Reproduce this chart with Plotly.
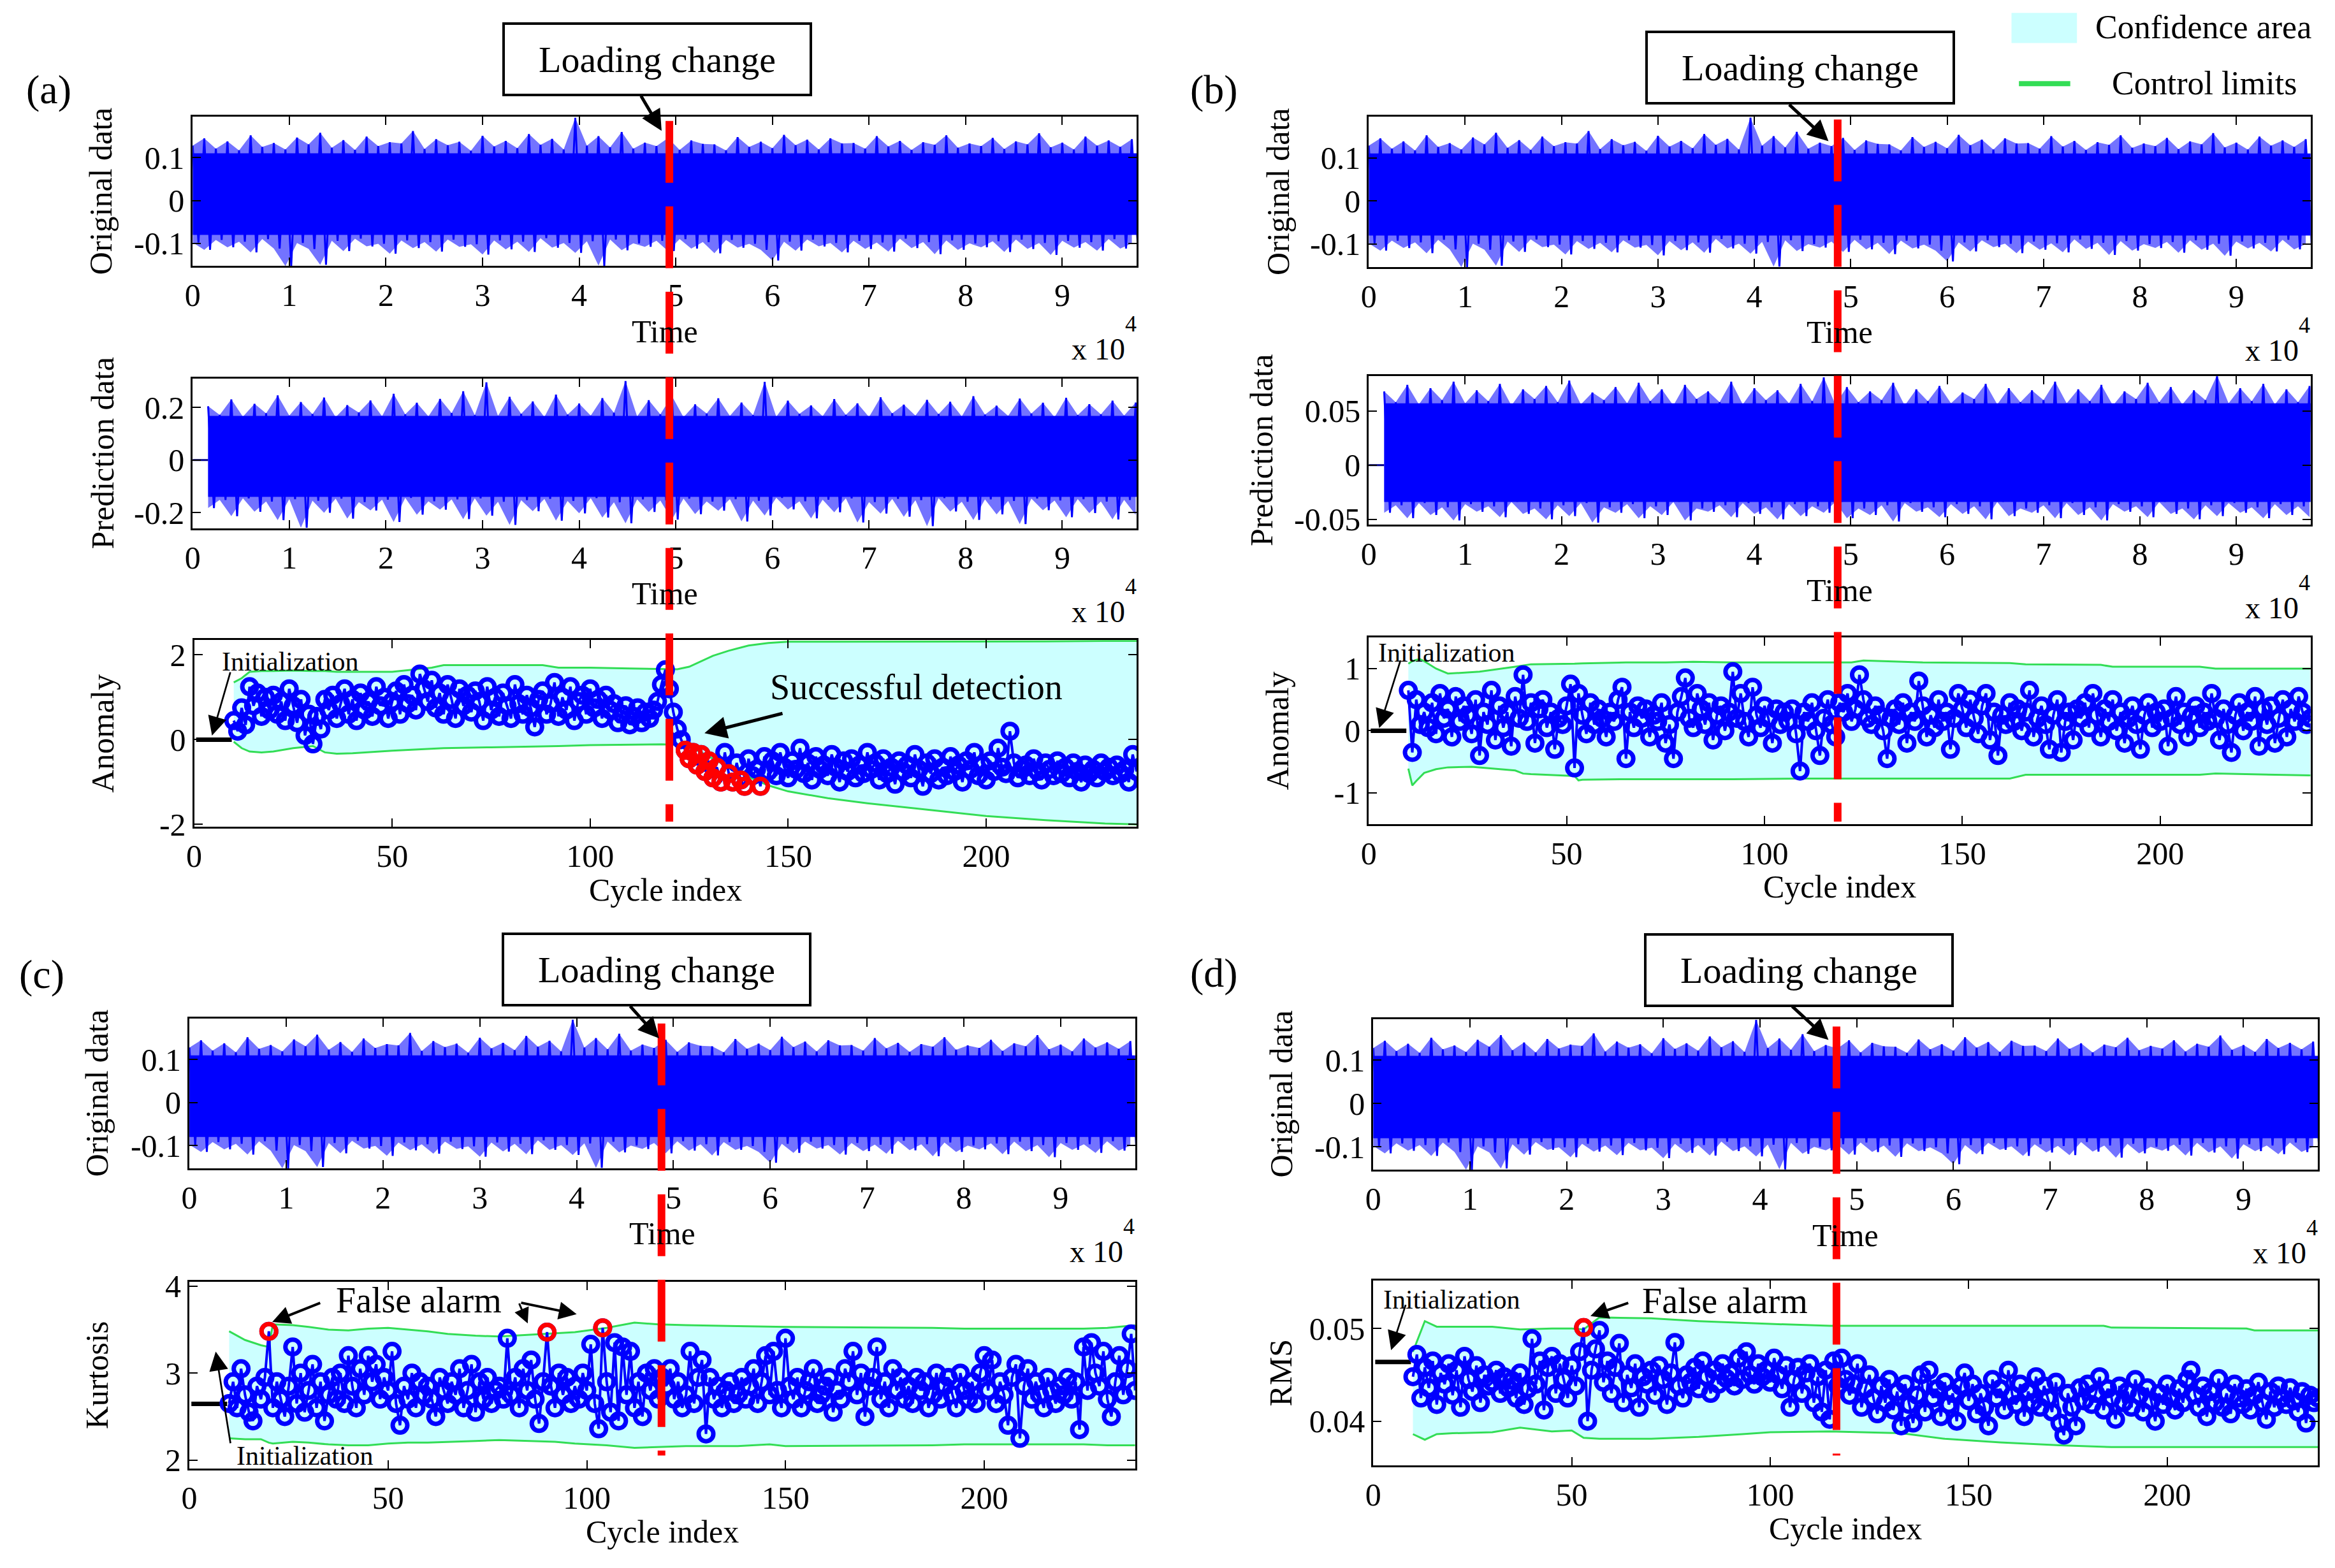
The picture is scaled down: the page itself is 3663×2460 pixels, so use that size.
import plotly.graph_objects as go

# ---------------- data ----------------
# vibration signal: block max / min (blocks of 1200 samples); the same recording
# is shown in the four "Original data" panels
orig_upper = [0.128, 0.145, 0.121, 0.138, 0.117, 0.152, 0.125, 0.134, 0.119, 0.147,
              0.131, 0.158, 0.123, 0.141, 0.118, 0.149, 0.127, 0.136, 0.133, 0.162,
              0.120, 0.143, 0.129, 0.137, 0.116, 0.151, 0.126, 0.139, 0.122, 0.155,
              0.130, 0.144, 0.119, 0.193, 0.128, 0.150, 0.124, 0.160, 0.121, 0.135,
              0.127, 0.146, 0.118, 0.140, 0.132, 0.131, 0.117, 0.148, 0.125, 0.137,
              0.122, 0.153, 0.129, 0.142, 0.119, 0.145, 0.133, 0.134, 0.121, 0.150,
              0.126, 0.139, 0.118, 0.136, 0.130, 0.152, 0.123, 0.133, 0.127, 0.146,
              0.120, 0.138, 0.131, 0.157, 0.124, 0.135, 0.119, 0.149, 0.128, 0.140,
              0.125, 0.143]
orig_lower = [-0.098, -0.115, -0.092, -0.109, -0.096, -0.121, -0.090, -0.112, -0.153, -0.099,
              -0.113, -0.150, -0.094, -0.118, -0.089, -0.107, -0.101, -0.124, -0.093, -0.111,
              -0.097, -0.119, -0.091, -0.108, -0.102, -0.126, -0.093, -0.114, -0.096, -0.120,
              -0.088, -0.110, -0.099, -0.122, -0.095, -0.152, -0.091, -0.116, -0.100, -0.108,
              -0.094, -0.118, -0.090, -0.112, -0.097, -0.123, -0.092, -0.110, -0.101, -0.115,
              -0.140, -0.096, -0.117, -0.091, -0.107, -0.099, -0.121, -0.094, -0.113, -0.098,
              -0.119, -0.089, -0.111, -0.097, -0.125, -0.093, -0.115, -0.100, -0.109, -0.095,
              -0.120, -0.091, -0.113, -0.099, -0.127, -0.094, -0.110, -0.097, -0.117, -0.090,
              -0.112, -0.100]
orig_core = [-0.080, 0.110]       # filled solid by the signal
block = 1200

# prediction signals (start at sample 1600, zero before)
pred_start = 1600
pred_a_upper = [0.205, 0.172, 0.231, 0.165, 0.214, 0.178, 0.246, 0.169, 0.221, 0.175,
                0.238, 0.163, 0.209, 0.181, 0.227, 0.167, 0.252, 0.174, 0.218, 0.166,
                0.233, 0.179, 0.262, 0.171, 0.296, 0.168, 0.241, 0.176, 0.223, 0.164,
                0.249, 0.173, 0.215, 0.169, 0.236, 0.180, 0.301, 0.166, 0.228, 0.174,
                0.244, 0.163, 0.212, 0.177, 0.235, 0.168, 0.219, 0.171, 0.298, 0.165,
                0.226, 0.176, 0.208, 0.167, 0.232, 0.172, 0.216, 0.164, 0.239, 0.178,
                0.211, 0.169, 0.229, 0.175, 0.222, 0.166, 0.243, 0.173, 0.207, 0.168,
                0.234, 0.177, 0.218, 0.163, 0.237, 0.171, 0.213, 0.174, 0.226, 0.169,
                0.219]
pred_a_lower = [-0.183, -0.152, -0.214, -0.146, -0.197, -0.158, -0.229, -0.149, -0.258, -0.155,
                -0.201, -0.147, -0.223, -0.160, -0.192, -0.151, -0.236, -0.144, -0.208, -0.157,
                -0.189, -0.150, -0.225, -0.146, -0.212, -0.159, -0.247, -0.153, -0.195, -0.148,
                -0.231, -0.156, -0.203, -0.145, -0.219, -0.161, -0.241, -0.150, -0.198, -0.154,
                -0.227, -0.147, -0.206, -0.158, -0.193, -0.149, -0.234, -0.155, -0.211, -0.144,
                -0.188, -0.157, -0.222, -0.151, -0.199, -0.146, -0.238, -0.160, -0.204, -0.148,
                -0.216, -0.153, -0.252, -0.145, -0.196, -0.159, -0.228, -0.150, -0.207, -0.156,
                -0.244, -0.147, -0.191, -0.154, -0.218, -0.149, -0.202, -0.158, -0.226, -0.152,
                -0.209]
pred_a_core = [-0.140, 0.168]
pred_b_upper = [0.068, 0.058, 0.074, 0.056, 0.071, 0.060, 0.077, 0.057, 0.069, 0.059,
                0.075, 0.055, 0.070, 0.061, 0.073, 0.058, 0.078, 0.056, 0.067, 0.060,
                0.072, 0.057, 0.076, 0.059, 0.070, 0.055, 0.074, 0.061, 0.068, 0.058,
                0.077, 0.056, 0.071, 0.060, 0.069, 0.057, 0.075, 0.059, 0.081, 0.056,
                0.072, 0.058, 0.068, 0.060, 0.076, 0.055, 0.070, 0.059, 0.073, 0.057,
                0.067, 0.061, 0.075, 0.056, 0.071, 0.058, 0.069, 0.060, 0.077, 0.057,
                0.070, 0.059, 0.074, 0.055, 0.068, 0.061, 0.076, 0.058, 0.072, 0.056,
                0.069, 0.060, 0.083, 0.057, 0.071, 0.059, 0.075, 0.056, 0.070, 0.058,
                0.073]
pred_b_lower = [-0.044, -0.037, -0.049, -0.035, -0.046, -0.039, -0.051, -0.036, -0.043, -0.038,
                -0.048, -0.034, -0.045, -0.040, -0.050, -0.037, -0.047, -0.035, -0.053, -0.039,
                -0.044, -0.036, -0.049, -0.038, -0.046, -0.034, -0.051, -0.040, -0.043, -0.037,
                -0.048, -0.035, -0.045, -0.039, -0.050, -0.036, -0.047, -0.038, -0.044, -0.034,
                -0.049, -0.040, -0.046, -0.037, -0.052, -0.035, -0.043, -0.039, -0.048, -0.036,
                -0.045, -0.038, -0.050, -0.034, -0.047, -0.040, -0.044, -0.037, -0.049, -0.035,
                -0.046, -0.039, -0.051, -0.036, -0.043, -0.038, -0.048, -0.034, -0.045, -0.040,
                -0.050, -0.037, -0.047, -0.035, -0.044, -0.039, -0.049, -0.036, -0.046, -0.038,
                -0.048]
pred_b_core = [-0.034, 0.057]

time_ticks = [0, 10000, 20000, 30000, 40000, 50000, 60000, 70000, 80000, 90000]
time_labels = ["0", "1", "2", "3", "4", "5", "6", "7", "8", "9"]
cycle_ticks = [0, 50, 100, 150, 200]
cycle_labels = ["0", "50", "100", "150", "200"]

first_cycle = 10            # monitored values start at cycle 10
init_cycles = [0.5, 9.5]    # initialization period

# (a) anomaly, cycles 10..238
anomaly_a = [0.45, 0.2, 0.75, 0.35, 1.25, 0.8, 1.1, 0.55, 1.0, 0.7,
             1.05, 0.6, 0.9, 0.45, 1.2, 0.8, 0.4, 0.95, 0.1, 0.6,
             -0.1, 0.55, 0.25, 0.95, 0.7, 1.05, 0.5, 0.85, 1.2, 0.6,
             0.95, 0.45, 1.1, 0.7, 0.9, 0.55, 1.25, 0.8, 1.0, 0.5,
             0.9, 1.15, 0.6, 1.3, 0.85, 1.05, 0.7, 1.55, 1.2, 0.9,
             1.4, 0.75, 1.1, 0.6, 1.3, 0.95, 0.5, 1.2, 0.8, 1.05,
             0.65, 1.15, 0.9, 0.45, 1.25, 0.7, 1.0, 0.55, 1.1, 0.8,
             0.5, 1.3, 0.85, 0.6, 1.05, 0.75, 0.3, 0.95, 1.15, 0.6,
             0.85, 1.35, 0.55, 1.0, 0.7, 1.25, 0.45, 0.9, 1.05, 0.6,
             1.2, 0.75, 0.95, 0.5, 1.05, 0.7, 0.85, 0.4, 0.6, 0.8,
             0.35, 0.55, 0.75, 0.4, 0.65, 0.5, 0.7, 0.9, 1.3, 1.65,
             1.2, 0.65, 0.25, 0.0, -0.25, -0.45, -0.3, -0.6, -0.35, -0.75,
             -0.5, -0.9, -0.65, -1.0, -0.3, -0.8, -1.0, -0.55, -0.95, -1.1,
             -0.45, -0.85, -0.7, -1.1, -0.4, -0.75, -0.5, -0.85, -0.3, -0.65,
             -0.9, -0.5, -0.7, -0.2, -0.8, -0.55, -0.95, -0.4, -0.7, -0.6,
             -0.85, -0.35, -0.65, -1.0, -0.5, -0.75, -0.45, -0.9, -0.6, -0.8,
             -0.3, -0.7, -0.55, -0.95, -0.45, -0.8, -0.65, -1.05, -0.5, -0.75,
             -0.6, -0.9, -0.35, -0.7, -1.1, -0.55, -0.8, -0.45, -0.95, -0.65,
             -0.85, -0.4, -0.75, -0.6, -1.0, -0.5, -0.7, -0.3, -0.85, -0.6,
             -0.95, -0.5, -0.75, -0.2, -0.65, -0.8, 0.2, -0.55, -0.9, -0.7,
             -0.6, -0.85, -0.45, -0.75, -0.95, -0.55, -0.7, -0.85, -0.5, -0.8,
             -0.65, -0.9, -0.55, -0.75, -1.0, -0.6, -0.8, -0.7, -0.9, -0.55,
             -0.75, -0.65, -0.85, -0.6, -0.8, -0.7, -1.0, -0.35, -0.75]
alarm_a = [124, 125, 126, 127, 128, 129, 130, 131, 132, 133, 135, 136, 138, 139, 143]
lim_a_cycles = [10, 12, 14, 17, 20, 25, 30, 33, 36, 40, 50, 60, 63, 75, 88, 92, 100, 110,
                118, 122, 125, 128, 131, 135, 140, 145, 150, 160, 170, 185, 200, 215, 230, 238]
lim_a_upper = [1.35, 1.45, 1.6, 1.62, 1.62, 1.63, 1.62, 1.62, 1.6, 1.6, 1.6, 1.7, 1.76, 1.76,
               1.76, 1.7, 1.7, 1.68, 1.66, 1.66, 1.72, 1.85, 1.98, 2.1, 2.22, 2.28, 2.31, 2.31,
               2.31, 2.31, 2.32, 2.32, 2.33, 2.33]
lim_a_lower = [-0.05, -0.2, -0.28, -0.3, -0.28, -0.2, -0.15, -0.3, -0.33, -0.32, -0.26, -0.22,
               -0.2, -0.18, -0.16, -0.15, -0.13, -0.12, -0.11, -0.12, -0.16, -0.3, -0.45, -0.65,
               -0.88, -1.08, -1.22, -1.38, -1.5, -1.65, -1.8, -1.9, -1.98, -2.0]
init_a = 0.0

# (b) anomaly, cycles 10..238
anomaly_b = [0.65, -0.35, 0.5, 0.1, 0.3, 0.05, 0.45, -0.05, 0.6, 0.2,
             0.35, -0.1, 0.55, 0.15, 0.4, 0.25, -0.05, 0.5, -0.4, 0.3,
             0.1, 0.65, -0.15, 0.4, 0.05, 0.3, -0.25, 0.55, 0.2, 0.9,
             0.15, 0.45, -0.2, 0.35, 0.5, 0.05, 0.3, -0.3, 0.2, 0.1,
             0.4, 0.75, -0.6, 0.6, 0.25, -0.05, 0.45, 0.1, 0.35, 0.2,
             -0.1, 0.3, 0.15, 0.5, 0.7, -0.45, 0.3, 0.05, 0.4, 0.2,
             0.35, -0.1, 0.25, 0.15, 0.45, -0.2, 0.1, -0.45, 0.3, 0.55,
             0.85, 0.2, 0.05, 0.6, 0.35, 0.1, 0.45, -0.15, 0.25, 0.4,
             0.0, 0.3, 0.95, 0.2, 0.6, 0.15, -0.1, 0.7, 0.25, 0.05,
             0.4, 0.2, -0.2, 0.35, 0.1, 0.3, 0.15, 0.35, -0.05, -0.65,
             0.3, 0.15, 0.45, 0.0, -0.4, 0.2, 0.5, 0.1, -0.1, 0.45,
             0.3, 0.6, 0.15, 0.35, 0.9, 0.5, 0.2, 0.1, 0.4, 0.25,
             0.0, -0.45, 0.2, 0.35, 0.1, 0.45, -0.2, 0.3, 0.15, 0.8,
             0.4, -0.1, 0.25, 0.05, 0.5, 0.15, 0.3, -0.3, 0.2, 0.6,
             0.35, 0.05, 0.5, 0.2, -0.05, 0.4, 0.6, -0.15, 0.3, -0.4,
             0.25, 0.1, 0.45, 0.15, 0.35, 0.0, 0.3, 0.65, -0.1, 0.2,
             0.4, 0.1, -0.3, 0.25, 0.5, -0.35, 0.15, 0.3, -0.15, 0.35,
             0.2, 0.45, 0.05, 0.6, 0.25, -0.1, 0.35, 0.15, 0.5, 0.0,
             0.3, -0.2, 0.2, 0.4, 0.1, -0.3, 0.25, 0.45, 0.05, 0.3,
             0.15, 0.35, -0.25, 0.2, 0.55, 0.1, 0.3, -0.1, 0.25, 0.4,
             0.05, 0.3, 0.15, 0.6, 0.2, -0.15, 0.35, 0.1, -0.35, 0.25,
             0.45, 0.0, 0.3, 0.15, 0.55, -0.25, 0.35, 0.1, 0.4, -0.2,
             0.2, 0.5, -0.1, 0.35, 0.15, 0.55, 0.3, 0.1, 0.2]
lim_b_cycles = [10, 11, 12, 13, 14, 17, 20, 26, 28, 37, 39, 41, 52, 53, 54, 65, 75, 82, 92, 110,
                122, 125, 140, 162, 166, 185, 188, 210, 214, 238]
lim_b_upper = [1.08, 1.12, 1.14, 1.15, 1.12, 1.0, 0.92, 0.94, 0.95, 1.03, 1.05, 1.07, 1.08, 1.08,
               1.085, 1.1, 1.1, 1.11, 1.1, 1.1, 1.1, 1.13, 1.1, 1.09, 1.07, 1.06, 1.03, 1.03,
               1.0, 1.0]
lim_b_lower = [-0.61, -0.88, -0.81, -0.74, -0.68, -0.62, -0.59, -0.58, -0.59, -0.64, -0.69, -0.7,
               -0.73, -0.8, -0.79, -0.78, -0.78, -0.78, -0.78, -0.77, -0.77, -0.77, -0.77, -0.77,
               -0.71, -0.71, -0.71, -0.71, -0.69, -0.72]
init_b = 0.0

# (c) kurtosis, cycles 10..238
kurtosis_c = [2.65, 2.9, 2.6, 3.05, 2.75, 2.55, 2.45, 2.85, 2.7, 2.95,
              3.48, 2.6, 2.9, 2.7, 2.5, 2.85, 3.3, 2.65, 3.0, 2.55,
              2.8, 3.1, 2.6, 2.9, 2.45, 2.75, 2.95, 2.7, 3.0, 2.65,
              3.2, 2.85, 2.6, 3.05, 2.75, 3.2, 2.9, 3.1, 2.7, 2.95,
              2.8, 3.25, 2.65, 2.4, 2.85, 2.7, 3.0, 2.6, 2.9, 2.75,
              2.85, 2.7, 2.5, 2.95, 2.8, 2.65, 2.9, 2.75, 3.05, 2.6,
              2.8, 3.1, 2.55, 2.9, 2.7, 2.95, 2.65, 2.8, 2.85, 2.7,
              3.4, 2.75, 2.95, 2.6, 3.05, 2.8, 3.15, 2.7, 2.42, 2.9,
              3.47, 2.85, 2.6, 3.0, 2.75, 2.95, 2.65, 2.85, 2.7, 3.0,
              2.8, 3.33, 2.65, 2.36, 3.52, 2.9, 2.55, 3.35, 2.45, 3.3,
              2.75, 3.25, 2.6, 2.9, 2.5, 3.0, 2.8, 3.05, 2.7, 2.95,
              2.85, 3.05, 2.7, 2.9, 2.6, 2.75, 3.25, 2.65, 2.95, 3.15,
              2.3, 2.95, 2.7, 2.85, 2.6, 2.8, 2.9, 2.65, 2.75, 2.95,
              2.7, 2.85, 3.05, 2.65, 2.9, 3.2, 2.75, 3.25, 2.8, 2.6,
              3.4, 2.85, 2.7, 2.95, 2.6, 2.8, 2.9, 3.05, 2.65, 2.75,
              2.85, 2.95, 2.55, 2.8, 2.7, 3.05, 2.9, 3.25, 2.75, 3.0,
              2.5, 2.85, 2.95, 3.3, 2.7, 2.9, 2.6, 3.05, 2.8, 2.95,
              2.7, 2.85, 2.65, 2.95, 2.8, 2.9, 2.6, 2.75, 3.0, 2.7,
              2.85, 2.95, 2.75, 2.6, 3.0, 2.8, 2.7, 2.9, 2.65, 3.0,
              3.2, 2.8, 3.15, 2.65, 2.9, 2.75, 2.4, 2.95, 3.1, 2.25,
              2.85, 3.05, 2.7, 2.9, 2.75, 2.6, 2.95, 2.8, 2.65, 2.85,
              2.75, 2.95, 2.7, 2.9, 2.35, 3.3, 2.8, 3.35, 3.0, 2.85,
              3.25, 2.7, 2.5, 2.9, 3.2, 2.75, 3.05, 3.45, 2.8]
alarm_c = [20, 90, 104]
lim_c_cycles = [10, 14, 18, 20, 21, 26, 30, 35, 40, 45, 50, 55, 60, 65, 72, 78, 85, 92, 97,
                105, 112, 118, 125, 138, 146, 150, 187, 195, 225, 231, 238]
lim_c_upper = [3.48, 3.38, 3.32, 3.3, 3.56, 3.55, 3.53, 3.5, 3.49, 3.51, 3.52, 3.5, 3.48, 3.45,
               3.43, 3.42, 3.44, 3.46, 3.47, 3.52, 3.58, 3.56, 3.55, 3.54, 3.53, 3.53, 3.52,
               3.51, 3.51, 3.52, 3.55]
lim_c_lower = [2.25, 2.24, 2.24, 2.2, 2.19, 2.21, 2.2, 2.18, 2.17, 2.17, 2.19, 2.2, 2.2, 2.21,
               2.22, 2.23, 2.22, 2.21, 2.19, 2.17, 2.14, 2.15, 2.16, 2.16, 2.18, 2.16, 2.17,
               2.18, 2.18, 2.17, 2.17]
init_c = 2.645

# (d) RMS, cycles 10..238
rms_d = [0.0448, 0.0472, 0.0425, 0.0458, 0.0436, 0.0465, 0.0418, 0.0452, 0.0440, 0.0462,
         0.0428, 0.0455, 0.0415, 0.0470, 0.0445, 0.0432, 0.0460, 0.0420, 0.0450, 0.0438,
         0.0442, 0.0455, 0.0430, 0.0448, 0.0436, 0.0444, 0.0425, 0.0452, 0.0418, 0.0435,
         0.0489, 0.0440, 0.0465, 0.0412, 0.0458, 0.0470, 0.0430, 0.0462, 0.0445, 0.0425,
         0.0460, 0.0438, 0.0475, 0.0501, 0.0400, 0.0455, 0.0478, 0.0498, 0.0442, 0.0465,
         0.0430, 0.0458, 0.0484, 0.0420, 0.0450, 0.0436, 0.0462, 0.0415, 0.0448, 0.0440,
         0.0455, 0.0428, 0.0460, 0.0445, 0.0418, 0.0452, 0.0485, 0.0438, 0.0425, 0.0450,
         0.0442, 0.0458, 0.0435, 0.0465, 0.0448, 0.0430, 0.0455, 0.0440, 0.0462, 0.0446,
         0.0452, 0.0438, 0.0468, 0.0445, 0.0475, 0.0450, 0.0440, 0.0462, 0.0448, 0.0455,
         0.0442, 0.0468, 0.0450, 0.0435, 0.0460, 0.0415, 0.0445, 0.0458, 0.0430, 0.0452,
         0.0462, 0.0420, 0.0448, 0.0410, 0.0455, 0.0402, 0.0465, 0.0438, 0.0468, 0.0445,
         0.0428, 0.0440, 0.0462, 0.0415, 0.0435, 0.0450, 0.0425, 0.0408, 0.0438, 0.0420,
         0.0445, 0.0412, 0.0432, 0.0395, 0.0440, 0.0418, 0.0398, 0.0428, 0.0450, 0.0410,
         0.0455, 0.0425, 0.0435, 0.0405, 0.0442, 0.0418, 0.0430, 0.0400, 0.0438, 0.0452,
         0.0422, 0.0440, 0.0408, 0.0430, 0.0415, 0.0395, 0.0445, 0.0425, 0.0435, 0.0412,
         0.0455, 0.0428, 0.0418, 0.0440, 0.0405, 0.0432, 0.0420, 0.0448, 0.0415, 0.0438,
         0.0425, 0.0410, 0.0442, 0.0398, 0.0385, 0.0430, 0.0415, 0.0395, 0.0436, 0.0422,
         0.0440, 0.0418, 0.0430, 0.0448, 0.0412, 0.0435, 0.0425, 0.0402, 0.0438, 0.0420,
         0.0432, 0.0415, 0.0445, 0.0428, 0.0410, 0.0436, 0.0422, 0.0400, 0.0430, 0.0418,
         0.0440, 0.0425, 0.0412, 0.0435, 0.0420, 0.0445, 0.0455, 0.0428, 0.0415, 0.0438,
         0.0405, 0.0432, 0.0420, 0.0446, 0.0415, 0.0430, 0.0408, 0.0440, 0.0425, 0.0418,
         0.0435, 0.0412, 0.0428, 0.0442, 0.0420, 0.0402, 0.0432, 0.0415, 0.0438, 0.0425,
         0.0418, 0.0436, 0.0422, 0.0410, 0.0432, 0.0398, 0.0428, 0.0420, 0.0425]
alarm_d = [53]
lim_d_cycles = [10, 13, 16, 20, 30, 37, 45, 50, 53, 57, 70, 82, 93, 100, 115, 125, 133, 144,
                158, 173, 184, 186, 220, 222, 238]
lim_d_upper = [0.0475, 0.0508, 0.0502, 0.0502, 0.0502, 0.0499, 0.0500, 0.0500, 0.0499, 0.0512,
               0.0511, 0.0508, 0.0506, 0.0505, 0.0503, 0.0503, 0.0503, 0.0503, 0.0503, 0.0503,
               0.0503, 0.0501, 0.0500, 0.0498, 0.0498]
lim_d_lower = [0.0386, 0.0380, 0.0386, 0.0387, 0.0388, 0.0393, 0.0389, 0.0390, 0.0382, 0.0381,
               0.0381, 0.0383, 0.0386, 0.0388, 0.0389, 0.0388, 0.0387, 0.0381, 0.0377, 0.0374,
               0.0372, 0.0372, 0.0372, 0.0372, 0.0372]
init_d = 0.0464

# cycle at which the load was changed (red dashed line)
change_a, change_b, change_c, change_d = 120, 118.5, 118.8, 116.7

# ---------------- styling / layout ----------------
W, H = 3663, 2460
SX, SY = W / 1567, H / 1050          # positions below measured on a 1567x1050 grid
FONT = "Liberation Serif"
BLUE, RED, GREEN, CYAN = "#0000ff", "#ff0000", "#33dd55", "#ccffff"
FRINGE = "rgba(0,0,255,0.55)"


def fx(x):
    # small correction for the offset seen in the rendered page
    return (x - 8) / 0.998 / 1567


def fy(y):
    return 1 - (y - 12) / 0.9875 / 1050


# box of each axes pair: left, right, top, bottom
boxes = {
    1: (128.5, 763, 78.3, 178.8), 2: (128.5, 763, 254.6, 355.4), 3: (129.5, 763, 430.7, 556.6),
    4: (919, 1552, 78.2, 179.4), 5: (919, 1552, 253, 353), 6: (919, 1552, 429, 554.5),
    7: (126.3, 762, 685.8, 786.5), 8: (126.3, 762, 862.9, 988.9),
    9: (922, 1557, 686, 787.5), 10: (922, 1557, 862, 986.8),
}

AX = dict(showline=True, mirror="ticks", linecolor="black", linewidth=3, ticks="inside",
          ticklen=13, tickwidth=2, tickcolor="black", showgrid=False, zeroline=False,
          tickfont=dict(family=FONT, size=50, color="black"), ticklabelstandoff=0)

layout = dict(width=W, height=H, margin=dict(l=0, r=0, t=0, b=0), showlegend=False,
              paper_bgcolor="white", plot_bgcolor="white", font=dict(family=FONT, color="black"))


def axes(i, xr, yr, xt, xl, yt, yl):
    x0, x1, y0, y1 = boxes[i]
    s = "" if i == 1 else str(i)
    layout["xaxis" + s] = dict(domain=[fx(x0), fx(x1)], range=xr, anchor="y" + s,
                               tickvals=xt, ticktext=xl, **AX)
    layout["yaxis" + s] = dict(domain=[fy(y1), fy(y0)], range=yr, anchor="x" + s,
                               tickvals=yt, ticktext=yl, **AX)


t_range = [0, 97700]
c_range = [0, 238]
o_range = [-0.153, 0.195]
axes(1, t_range, o_range, time_ticks, time_labels, [-0.1, 0, 0.1], ["-0.1", "0", "0.1"])
axes(2, t_range, [-0.26, 0.31], time_ticks, time_labels, [-0.2, 0, 0.2], ["-0.2", "0", "0.2"])
axes(3, c_range, [-2.06, 2.35], cycle_ticks, cycle_labels, [-2, 0, 2], ["-2", "0", "2"])
axes(4, t_range, o_range, time_ticks, time_labels, [-0.1, 0, 0.1], ["-0.1", "0", "0.1"])
axes(5, t_range, [-0.055, 0.082], time_ticks, time_labels, [-0.05, 0, 0.05], ["-0.05", "0", "0.05"])
axes(6, c_range, [-1.5, 1.5], cycle_ticks, cycle_labels, [-1, 0, 1], ["-1", "0", "1"])
axes(7, t_range, o_range, time_ticks, time_labels, [-0.1, 0, 0.1], ["-0.1", "0", "0.1"])
axes(8, c_range, [1.9, 4.05], cycle_ticks, cycle_labels, [2, 3, 4], ["2", "3", "4"])
axes(9, t_range, o_range, time_ticks, time_labels, [-0.1, 0, 0.1], ["-0.1", "0", "0.1"])
axes(10, c_range, [0.0352, 0.0552], cycle_ticks, cycle_labels, [0.04, 0.05], ["0.04", "0.05"])

fig = go.Figure()


def ref(i):
    s = "" if i == 1 else str(i)
    return dict(xaxis="x" + s, yaxis="y" + s)


def band(i, t0, upper, lower, core):
    # dense signal: translucent envelope, solid core, and the block peaks / troughs
    fig.add_trace(go.Scatter(x0=t0, dx=block, y=lower, mode="lines",
                             line=dict(color=FRINGE, width=0), hoverinfo="skip", **ref(i)))
    fig.add_trace(go.Scatter(x0=t0, dx=block, y=upper, mode="lines", fill="tonexty",
                             fillcolor=FRINGE, line=dict(color=FRINGE, width=0),
                             hoverinfo="skip", **ref(i)))
    t_end = t0 + block * (len(upper) - 0.5)
    fig.add_trace(go.Scatter(x=[t0, t_end], y=[core[0], core[0]], mode="lines",
                             line=dict(color=BLUE, width=0), hoverinfo="skip", **ref(i)))
    fig.add_trace(go.Scatter(x=[t0, t_end], y=[core[1], core[1]], mode="lines", fill="tonexty",
                             fillcolor=BLUE, line=dict(color=BLUE, width=0), hoverinfo="skip",
                             **ref(i)))
    signal = [v for pair in zip(upper, lower) for v in pair]
    fig.add_trace(go.Scatter(x0=t0, dx=block / 2, y=signal, mode="lines",
                             line=dict(color=BLUE, width=3), hoverinfo="skip", **ref(i)))


def monitor(i, values, alarms, lim_x, lim_up, lim_lo, init_level):
    fig.add_trace(go.Scatter(x=lim_x, y=lim_lo, mode="lines", line=dict(color=GREEN, width=3),
                             **ref(i)))
    fig.add_trace(go.Scatter(x=lim_x, y=lim_up, mode="lines", fill="tonexty", fillcolor=CYAN,
                             line=dict(color=GREEN, width=3), **ref(i)))
    fig.add_trace(go.Scatter(x=init_cycles, y=[init_level, init_level], mode="lines",
                             line=dict(color="black", width=7), **ref(i)))
    fig.add_trace(go.Scatter(x0=first_cycle, dx=1, y=values, mode="lines+markers",
                             line=dict(color=BLUE, width=4),
                             marker=dict(symbol="circle-open", size=23, color=BLUE,
                                         line=dict(width=7)), **ref(i)))
    if alarms:
        fig.add_trace(go.Scatter(x=alarms, y=[values[c - first_cycle] for c in alarms],
                                 mode="markers",
                                 marker=dict(symbol="circle-open", size=23, color=RED,
                                             line=dict(width=7)), **ref(i)))


for i in (1, 4, 7, 9):
    band(i, 0, orig_upper, orig_lower, orig_core)
for i, up, lo, core in ((2, pred_a_upper, pred_a_lower, pred_a_core),
                        (5, pred_b_upper, pred_b_lower, pred_b_core)):
    fig.add_trace(go.Scatter(x=[0, pred_start], y=[0, 0], mode="lines",
                             line=dict(color="#00008b", width=3), **ref(i)))
    band(i, pred_start, up, lo, core)

monitor(3, anomaly_a, alarm_a, lim_a_cycles, lim_a_upper, lim_a_lower, init_a)
monitor(6, anomaly_b, [], lim_b_cycles, lim_b_upper, lim_b_lower, init_b)
monitor(8, kurtosis_c, alarm_c, lim_c_cycles, lim_c_upper, lim_c_lower, init_c)
monitor(10, rms_d, alarm_d, lim_d_cycles, lim_d_upper, lim_d_lower, init_d)

# red dashed "loading change" markers spanning each column
shapes = []
for axis, cyc, top, bottom in (("x3", change_a, 81, 553), ("x6", change_b, 80, 553),
                               ("x8", change_c, 689, 980), ("x10", change_d, 691, 980)):
    shapes.append(dict(type="line", xref=axis, yref="paper", x0=cyc, x1=cyc,
                       y0=fy(top), y1=fy(bottom), layer="above",
                       line=dict(color=RED, width=12, dash="97px,37px")))
# legend swatches
shapes.append(dict(type="rect", xref="paper", yref="paper", x0=fx(1351), x1=fx(1395),
                   y0=fy(28.5), y1=fy(8.2), fillcolor=CYAN, line=dict(width=0)))
shapes.append(dict(type="line", xref="paper", yref="paper", x0=fx(1356), x1=fx(1390.5),
                   y0=fy(55.9), y1=fy(55.9), line=dict(color=GREEN, width=8)))
layout["shapes"] = shapes

ann = []


def text(s, x, y, size, angle=0, xanchor="center", **kw):
    ann.append(dict(text=s, x=fx(x), y=fy(y), xref="paper", yref="paper", showarrow=False,
                    xanchor=xanchor, yanchor="middle", textangle=angle,
                    font=dict(family=FONT, size=size, color="black"), **kw))


def arrow(head, tail, width, size):
    ann.append(dict(text="", x=fx(head[0]), y=fy(head[1]), xref="paper", yref="paper",
                    showarrow=True, ax=(tail[0] - head[0]) * SX, ay=(tail[1] - head[1]) * SY,
                    arrowhead=2, arrowsize=size, arrowwidth=width, arrowcolor="black",
                    standoff=0, startstandoff=0))


# panel letters
text("(a)", 31.6, 60, 64)
text("(b)", 815, 60, 64)
text("(c)", 27, 655.7, 64)
text("(d)", 815, 655, 64)

# axis titles
ytitles = {1: ("Original data", 67), 2: ("Prediction data", 68), 3: ("Anomaly", 68),
           4: ("Original data", 858), 5: ("Prediction data", 847), 6: ("Anomaly", 857.7),
           7: ("Original data", 64), 8: ("Kurtosis", 64), 9: ("Original data", 860),
           10: ("RMS", 860)}
for i, (label, xpos) in ytitles.items():
    x0, x1, y0, y1 = boxes[i]
    text(label, xpos, (y0 + y1) / 2, 50, angle=-90)
    xlabel = "Cycle index" if i in (3, 6, 8, 10) else "Time"
    text(xlabel, (x0 + x1) / 2, y1 + (42.3 if xlabel == "Cycle index" else 44), 50)
    if xlabel == "Time":
        text("x 10", x1 - 7, y1 + 56, 48, xanchor="right")
        text("4", x1 - 4, y1 + 39, 36)

# loading change boxes and arrows
for cx, cy, head, tail in ((440.9, 39.3, (443.7, 87.7), (429.5, 63.7)),
                           (1209, 45, (1228, 94.6), (1201, 69.6)),
                           (440.5, 652.4, (442, 699), (422, 676.8)),
                           (1208, 653, (1228, 700), (1203, 677))):
    arrow(head, tail, 5, 1.3)
    ann.append(dict(text="Loading change", x=fx(cx), y=fy(cy), xref="paper", yref="paper",
                    showarrow=False, xanchor="center", yanchor="middle", width=470, height=100,
                    bordercolor="black", borderwidth=4, borderpad=4, bgcolor="white",
                    font=dict(family=FONT, size=58, color="black")))

# detection / false alarm / initialization notes
text("Successful detection", 615, 462.6, 56)
arrow((472.5, 493.4), (525.5, 480), 5, 1.4)
text("False alarm", 280.5, 875.6, 56)
arrow((182, 890), (214.8, 877), 4, 1.4)
arrow((353.7, 891), (347.7, 877), 3, 1.6)
arrow((386.6, 884.8), (348.7, 877), 4, 1.4)
text("False alarm", 1158.5, 876, 56)
arrow((1068, 886), (1094, 877), 4, 1.4)
text("Initialization", 194, 445, 42)
arrow((141.5, 495), (154, 452), 2.7, 2.2)
text("Initialization", 971.5, 439, 42)
arrow((926, 490), (940.5, 444), 2.7, 2.2)
text("Initialization", 204, 980, 42)
arrow((144, 910), (154, 972), 2.7, 2.2)
text("Initialization", 975, 875, 42)
arrow((934, 909), (944, 878), 2.7, 2.2)

# legend labels
text("Confidence area", 1406.5, 17.8, 52, xanchor="left")
text("Control limits", 1417.7, 55.5, 52, xanchor="left")

layout["annotations"] = ann
fig.update_layout(**layout)
fig.write_html("out.html")
